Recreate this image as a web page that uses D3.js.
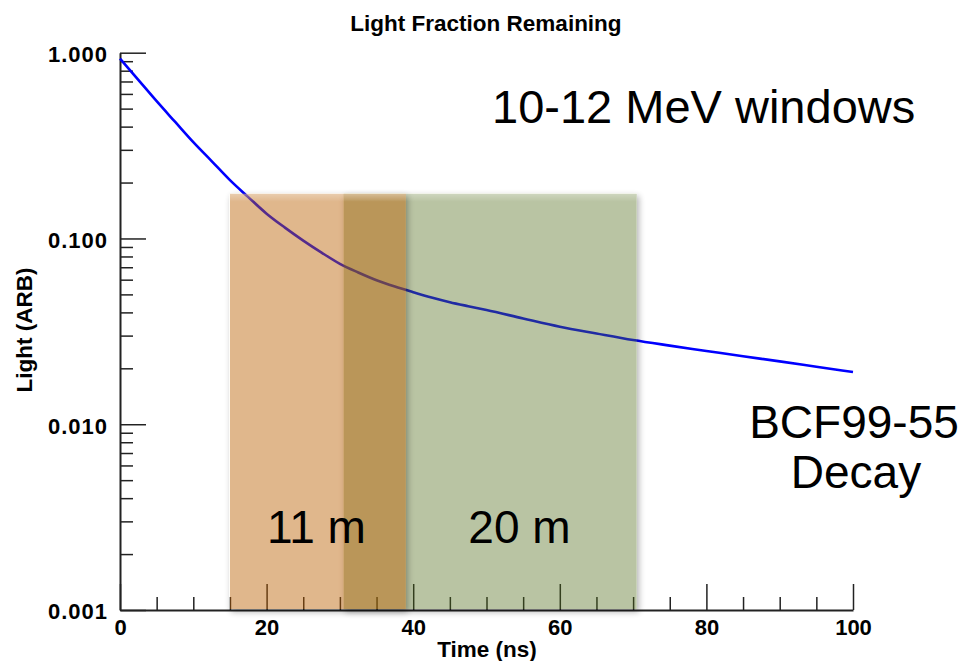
<!DOCTYPE html>
<html>
<head>
<meta charset="utf-8">
<script src="https://cdn.jsdelivr.net/npm/d3@7/dist/d3.min.js"></script>
<style>
  html, body { margin: 0; padding: 0; background: #fff; }
  svg { display: block; }
  text { font-family: "Liberation Sans", Arial, Helvetica, sans-serif; }
</style>
</head>
<body>
<script>
// ---- data ----
const times  = [0, 2.5, 5, 7.5, 10, 12.5, 15, 17.5, 20, 22.5, 25, 27.5, 30, 32.5, 35, 37.5, 40, 42.5, 45, 47.5, 50, 55, 60, 65, 70, 75, 80, 85, 90, 95, 100];
const light  = [0.930, 0.714, 0.548, 0.425, 0.330, 0.261, 0.206, 0.167, 0.136, 0.1144, 0.0974, 0.0839, 0.0730, 0.0656, 0.0596, 0.0551, 0.0514, 0.0481, 0.0454, 0.0432, 0.0412, 0.0371, 0.0335, 0.0308, 0.0284, 0.0265, 0.0248, 0.0232, 0.0218, 0.0204, 0.0191];
const windowLabels = ["20 m", "11 m"];
const windowStart  = [30.5, 15];
const windowEnd    = [70.5, 39];
const windowTop    = [0.174, 0.174];
const windowLabelX = [54.5, 26.8];
const yMajorTicks = [0.001, 0.01, 0.1, 1];
const xMajorTicks = [0, 20, 40, 60, 80, 100];
const xMinorTicks = [5, 10, 15, 25, 30, 35, 45, 50, 55, 65, 70, 75, 85, 90, 95];
const yMinorTicks = [0.002, 0.003, 0.004, 0.005, 0.006, 0.007, 0.008, 0.009,
                     0.02, 0.03, 0.04, 0.05, 0.06, 0.07, 0.08, 0.09,
                     0.2, 0.3, 0.4, 0.5, 0.6, 0.7, 0.8, 0.9];

// ---- layout ----
const W = 970, H = 661;
const svg = d3.select("body").append("svg").attr("width", W).attr("height", H);

const x = d3.scaleLinear().domain([0, 100]).range([120, 853]);
const y = d3.scaleLog().domain([0.001, 1]).range([610, 52.7]);

const defs = svg.append("defs");
const f = defs.append("filter").attr("id", "shadow").attr("x", "-10%").attr("y", "-10%").attr("width", "130%").attr("height", "130%");
f.append("feComponentTransfer").attr("in", "SourceAlpha").attr("result", "mask")
  .append("feFuncA").attr("type", "linear").attr("slope", 50);
f.append("feGaussianBlur").attr("in", "mask").attr("stdDeviation", 3).attr("result", "blur");
f.append("feOffset").attr("in", "blur").attr("dx", 2).attr("dy", 3).attr("result", "off");
f.append("feComponentTransfer").attr("in", "off").attr("result", "offa")
  .append("feFuncA").attr("type", "linear").attr("slope", 0.3);
f.append("feComposite").attr("in", "offa").attr("in2", "mask").attr("operator", "out").attr("result", "sh");
const fm = f.append("feMerge");
fm.append("feMergeNode").attr("in", "sh");
fm.append("feMergeNode").attr("in", "SourceGraphic");

const glow = defs.append("linearGradient").attr("id", "topglow").attr("x1", 0).attr("y1", 0).attr("x2", 0).attr("y2", 1);
glow.append("stop").attr("offset", 0).attr("stop-color", "#fff").attr("stop-opacity", 0.3);
glow.append("stop").attr("offset", 1).attr("stop-color", "#fff").attr("stop-opacity", 0);

// ---- axes ----
const axisColor = "#222";
function styleAxis(g) {
  g.selectAll("path.domain").attr("stroke", axisColor).attr("stroke-width", 2);
  g.selectAll(".tick line").attr("stroke", axisColor).attr("stroke-width", 1.5);
  g.selectAll(".tick text").attr("fill", "#000").attr("font-size", 22).attr("font-weight", "bold")
    .attr("font-family", '"Liberation Sans", Arial, Helvetica, sans-serif');
}

const yMinor = svg.append("g").attr("transform", `translate(${x(0)},0)`)
  .call(d3.axisLeft(y).tickValues(yMinorTicks).tickSize(-13).tickSizeOuter(0).tickFormat(""));
styleAxis(yMinor);
yMinor.select("path.domain").remove();

const yMajor = svg.append("g").attr("transform", `translate(${x(0)},0)`)
  .call(d3.axisLeft(y).tickValues(yMajorTicks).tickSize(-26).tickSizeOuter(0).tickPadding(12).tickFormat(d3.format(".3f")));
styleAxis(yMajor);
yMajor.selectAll(".tick text").attr("dy", "0.4em").attr("letter-spacing", 1);

const xMinor = svg.append("g").attr("transform", `translate(0,${y(0.001)})`)
  .call(d3.axisBottom(x).tickValues(xMinorTicks).tickSize(-13).tickSizeOuter(0).tickFormat(""));
styleAxis(xMinor);
xMinor.select("path.domain").remove();

const xMajor = svg.append("g").attr("transform", `translate(0,${y(0.001)})`)
  .call(d3.axisBottom(x).tickValues(xMajorTicks).tickSize(-26).tickSizeOuter(0).tickPadding(9).tickFormat(d3.format("d")));
styleAxis(xMajor);

// ---- curve ----
const pts = times.map((t, i) => [t, light[i]]);
svg.append("path").datum(pts)
  .attr("fill", "none").attr("stroke", "#0000ff").attr("stroke-width", 2.6)
  .attr("d", d3.line().x(d => x(d[0])).y(d => y(d[1])).curve(d3.curveMonotoneX));

// ---- windows (green first, orange on top) ----
const fills = [
  { fill: "rgb(80,108,20)", op: 0.4 },
  { fill: "rgb(187,95,0)", op: 0.45 }
];
windowLabels.forEach((lab, i) => {
  const g = svg.append("g").attr("filter", "url(#shadow)");
  g.append("rect")
    .attr("x", x(windowStart[i])).attr("y", y(windowTop[i]))
    .attr("width", x(windowEnd[i]) - x(windowStart[i]))
    .attr("height", y(0.001) - 1 - y(windowTop[i]))
    .attr("fill", fills[i].fill).attr("fill-opacity", fills[i].op);
  svg.append("rect")
    .attr("x", x(windowStart[i])).attr("y", y(windowTop[i]))
    .attr("width", x(windowEnd[i]) - x(windowStart[i]))
    .attr("height", 8)
    .attr("fill", "url(#topglow)");
});
windowLabels.forEach((lab, i) => {
  svg.append("text").attr("x", x(windowLabelX[i])).attr("y", 543)
    .attr("text-anchor", "middle").attr("font-size", 46).attr("fill", "#000").text(lab);
});

// ---- texts ----
svg.append("text").attr("x", 486).attr("y", 31).attr("text-anchor", "middle")
  .attr("font-size", 22.5).attr("font-weight", "bold").text("Light Fraction Remaining");
svg.append("text").attr("x", 487).attr("y", 657).attr("text-anchor", "middle")
  .attr("font-size", 22.5).attr("font-weight", "bold").text("Time (ns)");
svg.append("text").attr("transform", "translate(32,330) rotate(-90)").attr("text-anchor", "middle")
  .attr("font-size", 22.5).attr("font-weight", "bold").text("Light (ARB)");

svg.append("text").attr("x", 492).attr("y", 123).attr("font-size", 47).text("10-12 MeV windows");
svg.append("text").attr("x", 854).attr("y", 438).attr("text-anchor", "middle").attr("font-size", 46).text("BCF99-55");
svg.append("text").attr("x", 856).attr("y", 488).attr("text-anchor", "middle").attr("font-size", 46).text("Decay");
</script>
</body>
</html>
